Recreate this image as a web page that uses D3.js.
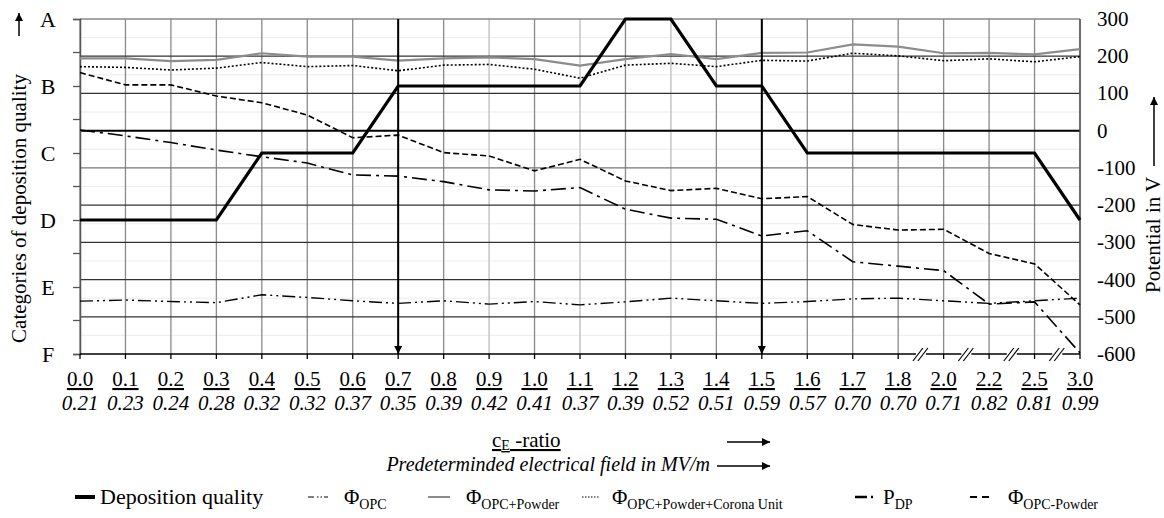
<!DOCTYPE html>
<html>
<head>
<meta charset="utf-8">
<script src="https://cdn.jsdelivr.net/npm/d3@7"></script>
<style>
  body { margin: 0; background: #fff; }
  svg text, svg tspan { font-family: "Times New Roman", "Liberation Serif", serif !important; }
</style>
</head>
<body>
<script>
var ceRatio = ["0.0","0.1","0.2","0.3","0.4","0.5","0.6","0.7","0.8","0.9","1.0","1.1","1.2","1.3","1.4","1.5","1.6","1.7","1.8","2.0","2.2","2.5","3.0"];
var fieldMV = ["0.21","0.23","0.24","0.28","0.32","0.32","0.37","0.35","0.39","0.42","0.41","0.37","0.39","0.52","0.51","0.59","0.57","0.70","0.70","0.71","0.82","0.81","0.99"];
var categories = ["A","B","C","D","E","F"];
var potentialTicks = [300,200,100,0,-100,-200,-300,-400,-500,-600];

var depQuality = ["D","D","D","D","C","C","C","B","B","B","B","B","A","A","B","B","C","C","C","C","C","C","D"];
var phiOPC = [-458,-455,-459,-462,-441,-448,-457,-464,-457,-466,-459,-468,-460,-450,-457,-464,-459,-452,-450,-457,-464,-457,-450];
var phiOPCPowder = [194,194,187,190,208,199,199,188,194,197,192,175,192,206,192,209,210,232,226,208,209,205,219];
var phiCorona = [172,170,163,168,183,172,175,161,176,178,165,141,176,181,172,189,187,208,201,188,193,185,199];
var pDP = [2,-14,-32,-52,-70,-87,-119,-122,-137,-159,-162,-153,-211,-235,-238,-283,-269,-352,-364,-376,-466,-460,-597];
var phiMinusPowder = [156,123,123,93,75,42,-19,-12,-59,-68,-108,-77,-135,-161,-155,-183,-177,-252,-267,-265,-330,-358,-468];
var arrowMarks = ["0.7","1.5"];
var breakAfter = ["1.8","2.0","2.2","2.5"];

var W = 1164, H = 518;
var pLeft = 80, pRight = 1080, pTop = 19, pBottom = 354;
var FONT = "Times New Roman";

var svg = d3.select("body").append("svg")
    .attr("width", W).attr("height", H)
    .attr("font-family", FONT);

var defs = svg.append("defs");
defs.append("marker")
    .attr("id", "ah")
    .attr("viewBox", "0 0 10 10")
    .attr("refX", 10).attr("refY", 5)
    .attr("markerWidth", 10).attr("markerHeight", 8)
    .attr("markerUnits", "userSpaceOnUse")
    .attr("orient", "auto")
  .append("path").attr("d", "M0,0 L10,5 L0,10 z").attr("fill", "#000");

var x = d3.scalePoint().domain(ceRatio).range([pLeft, pRight]);
var yCat = d3.scalePoint().domain(categories).range([pTop, pBottom]);
var yV = d3.scaleLinear().domain([-600, 300]).range([pBottom, pTop]);

//faint grid every 50 V
svg.append("g").selectAll("line")
    .data(d3.range(-550, 300, 100))
  .enter().append("line")
    .attr("x1", pLeft).attr("x2", pRight)
    .attr("y1", function(d) { return yV(d); })
    .attr("y2", function(d) { return yV(d); })
    .style("stroke", "#ececec").style("stroke-width", "1px");

//vertical grid
svg.append("g").selectAll("line")
    .data(ceRatio)
  .enter().append("line")
    .attr("x1", function(d) { return x(d); })
    .attr("x2", function(d) { return x(d); })
    .attr("y1", pTop).attr("y2", pBottom)
    .style("stroke", function(d, i) { return (i == 9 || i == 11 || i == 13) ? "#bbb" : "#8a8a8a"; })
    .style("stroke-width", "1.3px");

//horizontal grid every 100 V
svg.append("g").selectAll("line")
    .data(potentialTicks.filter(function(d) { return d != 300 && d != -600; }))
  .enter().append("line")
    .attr("x1", pLeft).attr("x2", pRight)
    .attr("y1", function(d) { return yV(d); })
    .attr("y2", function(d) { return yV(d); })
    .style("stroke", function(d) { return d == 0 ? "#000" : (d == -100 ? "#777" : "#333"); })
    .style("stroke-width", function(d) { return d == 0 ? "2px" : "1.2px"; });

//frame
svg.append("line").attr("x1", pLeft).attr("x2", pRight).attr("y1", pTop).attr("y2", pTop)
    .style("stroke", "#888").style("stroke-width", "1.5px");
svg.append("line").attr("x1", pRight).attr("x2", pRight).attr("y1", pTop).attr("y2", pBottom)
    .style("stroke", "#555").style("stroke-width", "1.5px");

//left axis
var leftAxis = svg.append("g")
    .attr("transform", "translate(" + pLeft + ",0)")
    .call(d3.axisLeft(yCat).tickSize(7).tickPadding(14));
leftAxis.attr("font-family", FONT);
leftAxis.select(".domain").style("stroke", "#555").style("stroke-width", "1.5px");
leftAxis.selectAll(".tick line").style("stroke", "#555").style("stroke-width", "1.3px");
leftAxis.selectAll(".tick text")
    .attr("text-anchor", "middle").attr("x", -32).attr("dy", "0.35em")
    .attr("font-family", FONT).attr("font-size", 22).attr("fill", "#000");
//minor ticks at half categories
svg.append("g").selectAll("line")
    .data(categories.slice(0, -1))
  .enter().append("line")
    .attr("x1", pLeft - 7).attr("x2", pLeft)
    .attr("y1", function(d) { return yCat(d) + yCat.step() / 2; })
    .attr("y2", function(d) { return yCat(d) + yCat.step() / 2; })
    .style("stroke", "#555").style("stroke-width", "1.3px");

//right axis labels
svg.append("g").selectAll("text")
    .data(potentialTicks)
  .enter().append("text")
    .attr("x", 1097)
    .attr("y", function(d) { return yV(d) + 7; })
    .attr("font-family", FONT).attr("font-size", 21)
    .text(function(d) { return d; });

//axis titles
svg.append("text")
    .attr("transform", "translate(26," + ((pTop + pBottom) / 2 + 22) + ") rotate(-90)")
    .attr("text-anchor", "middle")
    .attr("font-family", FONT).attr("font-size", 21)
    .text("Categories of deposition quality");
svg.append("line")
    .attr("x1", 19).attr("x2", 19).attr("y1", 36).attr("y2", 13)
    .attr("marker-end", "url(#ah)")
    .style("stroke", "#000").style("stroke-width", "1.5px");

svg.append("text")
    .attr("transform", "translate(1160,293) rotate(-90)")
    .attr("text-anchor", "start")
    .attr("font-family", FONT).attr("font-size", 21)
    .text("Potential in V");
svg.append("line")
    .attr("x1", 1154).attr("x2", 1154).attr("y1", 166).attr("y2", 97)
    .attr("marker-end", "url(#ah)")
    .style("stroke", "#000").style("stroke-width", "1.5px");

//series
function drawLine(values, yFn, stroke, width, dash) {
	var line = d3.line()
	    .x(function(d, i) { return x(ceRatio[i]); })
	    .y(function(d) { return yFn(d); });
	svg.append("path")
	    .datum(values)
	    .attr("d", line)
	    .attr("fill", "none")
	    .style("stroke", stroke)
	    .style("stroke-width", width)
	    .style("stroke-dasharray", dash);
}
drawLine(phiOPC, yV, "#000", "1.4px", "13,4,2,4,2,4");
drawLine(phiOPCPowder, yV, "#8c8c8c", "2.2px", null);
drawLine(phiCorona, yV, "#000", "1.6px", "2,2");
drawLine(pDP, yV, "#000", "1.6px", "15,5,3,5");
drawLine(phiMinusPowder, yV, "#000", "1.6px", "6,3");
drawLine(depQuality, yCat, "#000", "3.2px", null);

//vertical arrows
svg.append("g").selectAll("line")
    .data(arrowMarks)
  .enter().append("line")
    .attr("x1", function(d) { return x(d); })
    .attr("x2", function(d) { return x(d); })
    .attr("y1", pTop).attr("y2", pBottom)
    .attr("marker-end", "url(#ah)")
    .style("stroke", "#000").style("stroke-width", "2px");

//bottom axis
svg.append("line").attr("x1", pLeft).attr("x2", pRight).attr("y1", pBottom).attr("y2", pBottom)
    .style("stroke", "#000").style("stroke-width", "1.5px");
svg.append("g").selectAll("line")
    .data(ceRatio)
  .enter().append("line")
    .attr("x1", function(d) { return x(d); })
    .attr("x2", function(d) { return x(d); })
    .attr("y1", pBottom).attr("y2", pBottom + 5)
    .style("stroke", "#000").style("stroke-width", "1.3px");

//axis breaks
var breaks = svg.append("g").selectAll("g")
    .data(breakAfter)
  .enter().append("g")
    .attr("transform", function(d) { return "translate(" + (x(d) + x.step() / 2) + "," + pBottom + ")"; });
breaks.append("rect").attr("x", -5).attr("y", -2).attr("width", 10).attr("height", 4).attr("fill", "#fff");
breaks.append("line").attr("x1", -8).attr("y1", 7).attr("x2", 2).attr("y2", -6)
    .style("stroke", "#000").style("stroke-width", "1.2px");
breaks.append("line").attr("x1", -3).attr("y1", 7).attr("x2", 7).attr("y2", -6)
    .style("stroke", "#000").style("stroke-width", "1.2px");

//x tick labels
svg.append("g").selectAll("text")
    .data(ceRatio)
  .enter().append("text")
    .attr("x", function(d) { return x(d); })
    .attr("y", 386)
    .attr("text-anchor", "middle")
    .attr("font-family", FONT).attr("font-size", 21)
    .attr("text-decoration", "underline")
    .text(function(d) { return d; });
svg.append("g").selectAll("text")
    .data(fieldMV)
  .enter().append("text")
    .attr("x", function(d, i) { return x(ceRatio[i]); })
    .attr("y", 410)
    .attr("text-anchor", "middle")
    .attr("font-family", FONT).attr("font-size", 21)
    .attr("font-style", "italic")
    .text(function(d) { return d; });

//x titles
var t1 = svg.append("text")
    .attr("x", 492).attr("y", 447)
    .attr("font-family", FONT).attr("font-size", 21)
    .attr("text-decoration", "underline");
t1.append("tspan").text("c");
t1.append("tspan").attr("dy", 3).attr("font-size", 14).text("E");
t1.append("tspan").attr("dy", -3).text(" -ratio");
svg.append("line").attr("x1", 727).attr("x2", 770).attr("y1", 442).attr("y2", 442)
    .attr("marker-end", "url(#ah)")
    .style("stroke", "#000").style("stroke-width", "1.3px");

svg.append("text")
    .attr("x", 710).attr("y", 471)
    .attr("text-anchor", "end")
    .attr("font-family", FONT).attr("font-size", 20)
    .attr("font-style", "italic")
    .text("Predeterminded electrical field in MV/m");
svg.append("line").attr("x1", 717).attr("x2", 770).attr("y1", 466).attr("y2", 466)
    .attr("marker-end", "url(#ah)")
    .style("stroke", "#000").style("stroke-width", "1.3px");

//legend
var legend = [
	{ x: 75, w: 20, stroke: "#000", width: "4px", dash: null, main: "Deposition quality", sub: "", gap: 5, size: 22 },
	{ x: 308, w: 20, stroke: "#000", width: "1.2px", dash: "6,3,1.5,2,1.5,2", main: "Φ", sub: "OPC", gap: 16, size: 21 },
	{ x: 428, w: 22, stroke: "#8c8c8c", width: "2px", dash: null, main: "Φ", sub: "OPC+Powder", gap: 16, size: 21 },
	{ x: 582, w: 18, stroke: "#000", width: "1.2px", dash: "1.5,1.5", main: "Φ", sub: "OPC+Powder+Corona Unit", gap: 12, size: 21 },
	{ x: 855, w: 20, stroke: "#000", width: "2.5px", dash: "12,4,2,4", main: "P", sub: "DP", gap: 8, size: 21 },
	{ x: 970, w: 20, stroke: "#000", width: "1.8px", dash: "7,5", main: "Φ", sub: "OPC-Powder", gap: 18, size: 21 }
];
var lg = svg.append("g").selectAll("g")
    .data(legend)
  .enter().append("g")
    .attr("transform", function(d) { return "translate(" + d.x + ",0)"; });
lg.append("line")
    .attr("x1", 0).attr("x2", function(d) { return d.w; })
    .attr("y1", 497).attr("y2", 497)
    .style("stroke", function(d) { return d.stroke; })
    .style("stroke-width", function(d) { return d.width; })
    .style("stroke-dasharray", function(d) { return d.dash; });
var lt = lg.append("text")
    .attr("x", function(d) { return d.w + d.gap; })
    .attr("y", 504)
    .attr("font-family", FONT)
    .attr("font-size", function(d) { return d.size; });
lt.append("tspan").text(function(d) { return d.main; });
lt.append("tspan").attr("dy", 5).attr("font-size", 14).text(function(d) { return d.sub; });
</script>
</body>
</html>
